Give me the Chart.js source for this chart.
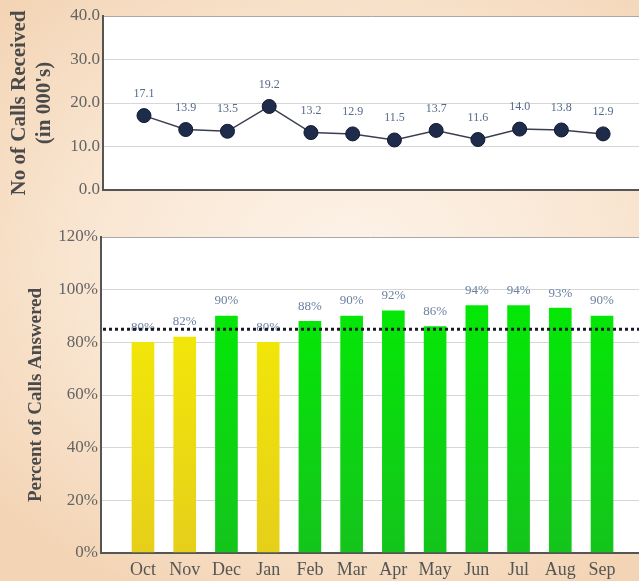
<!DOCTYPE html>
<html><head><meta charset="utf-8">
<script src="https://cdn.jsdelivr.net/npm/chart.js@4"></script>
<style>
html,body{margin:0;padding:0;width:639px;height:581px;overflow:hidden;}
body{background: radial-gradient(ellipse 75% 65% at 55% 45%, #fdf3e9 0%, #f9e6d2 55%, #f3d4b4 100%);}
#top{position:absolute;left:0;top:0;width:639px;height:205px;}
#bot{position:absolute;left:0;top:205px;width:639px;height:376px;}
</style></head><body>
<div id="top"><canvas id="c1"></canvas></div>
<div id="bot"><canvas id="c2"></canvas></div>
<script>
const months = ['Oct','Nov','Dec','Jan','Feb','Mar','Apr','May','Jun','Jul','Aug','Sep'];
const callsReceived = [17.1,13.9,13.5,19.2,13.2,12.9,11.5,13.7,11.6,14.0,13.8,12.9];
const pctAnswered = [80,82,90,80,88,90,92,86,94,94,93,90];
const target = 85;
const callsTicks = [0,10,20,30,40];
const pctTicks = [0,20,40,60,80,100,120];

Chart.defaults.font.family = "'Liberation Serif', 'Times New Roman', serif";
Chart.defaults.animation = false;

const whiteArea = {
  id:'whiteArea',
  beforeDraw(chart){
    const a = chart.chartArea, ctx = chart.ctx;
    ctx.save(); ctx.fillStyle = '#ffffff';
    ctx.fillRect(a.left, a.top, a.right - a.left, a.bottom - a.top);
    ctx.restore();
  }
};
const valueLabels = {
  id:'valueLabels',
  afterDatasetsDraw(chart, args, opts){
    const meta = chart.getDatasetMeta(0), ctx = chart.ctx;
    ctx.save();
    ctx.font = opts.font; ctx.fillStyle = opts.color;
    ctx.textAlign = 'center'; ctx.textBaseline = 'middle';
    meta.data.forEach((el, i) => {
      ctx.fillText(opts.fmt(chart.data.datasets[0].data[i].y), el.x, el.y - opts.offset);
    });
    ctx.restore();
  }
};
const targetLine = {
  id:'targetLine',
  afterDraw(chart, args, opts){
    if (opts.value == null) return;
    const a = chart.chartArea, ctx = chart.ctx;
    const y = chart.scales.y.getPixelForValue(opts.value);
    ctx.save();
    ctx.strokeStyle = '#1b1b28'; ctx.lineWidth = 3; ctx.setLineDash([3,3]);
    ctx.beginPath(); ctx.moveTo(a.left + 2, y); ctx.lineTo(a.right, y); ctx.stroke();
    ctx.restore();
  }
};

const gridColor = (top) => (c) => c.tick.value === 0 ? '#555555' : (c.tick.value === top ? '#a8a8a8' : '#d6d6d6');
const gridWidth = (c) => c.tick.value === 0 ? 2 : 1;

new Chart(document.getElementById('c1'), {
  type:'line',
  data:{ datasets:[{
    data: callsReceived.map((v,i)=>({x:i, y:v})),
    borderColor:'#3a3f50', borderWidth:1.5,
    pointRadius:7, pointHoverRadius:7,
    pointBackgroundColor:'#1e2b4b', pointBorderColor:'#121a30', pointBorderWidth:1
  }]},
  options:{
    responsive:true, maintainAspectRatio:false,
    layout:{autoPadding:false, padding:{top:16,bottom:15,left:0,right:0}},
    plugins:{legend:{display:false}, tooltip:{enabled:false},
      valueLabels:{font:"12px 'Liberation Serif'", color:'#56698a', offset:22, fmt:v=>v.toFixed(1)},
      targetLine:{value:null}},
    scales:{
      x:{type:'linear', display:false, offset:false, min:-0.982, max:11.86},
      y:{min:0, max:40,
        afterFit:s=>{s.width=103;},
        afterBuildTicks:s=>{s.ticks = callsTicks.map(v=>({value:v}));},
        ticks:{callback:v=>Number(v).toFixed(1), color:'#646464', font:{size:17}, padding:3},
        grid:{color:gridColor(40), lineWidth:gridWidth, drawTicks:false},
        border:{display:true, color:'#555555', width:2},
        title:{display:true, text:['No of Calls Received', "(in 000's)"], color:'#4a4a4a',
          font:{size:21, weight:'bold', lineHeight:1.19}, padding:{top:7.5, bottom:0}}
      }
    }
  },
  plugins:[whiteArea, valueLabels, targetLine]
});

new Chart(document.getElementById('c2'), {
  type:'bar',
  data:{ datasets:[{
    data: pctAnswered.map((v,i)=>({x:i, y:v})),
    barThickness:22,
    backgroundColor:(c)=>{
      const chart = c.chart, a = chart.chartArea;
      if (!a || !c.raw) return '#00e000';
      const g = chart.ctx.createLinearGradient(0, a.top, 0, a.bottom);
      if (c.raw.y < target) { g.addColorStop(0,'#f7f000'); g.addColorStop(1,'#e6cf1a'); }
      else { g.addColorStop(0,'#00f200'); g.addColorStop(1,'#14c41c'); }
      return g;
    }
  }]},
  options:{
    responsive:true, maintainAspectRatio:false,
    layout:{autoPadding:false, padding:{top:32,bottom:0,left:0,right:0}},
    plugins:{legend:{display:false}, tooltip:{enabled:false},
      valueLabels:{font:"13px 'Liberation Serif'", color:'#6a80a0', offset:15, fmt:v=>v+'%'},
      targetLine:{value:target}},
    scales:{
      x:{type:'linear', offset:false, min:-1.006, max:11.886,
        afterFit:s=>{s.height=28;},
        afterBuildTicks:s=>{s.ticks = months.map((m,i)=>({value:i}));},
        ticks:{callback:v=>months[v], color:'#555555', font:{size:18}, padding:6, maxRotation:0, autoSkip:false},
        grid:{display:false, drawTicks:false, offset:false},
        border:{display:true, color:'#555555', width:2}
      },
      y:{min:0, max:120,
        afterFit:s=>{s.width=101;},
        afterBuildTicks:s=>{s.ticks = pctTicks.map(v=>({value:v}));},
        ticks:{callback:v=>v+'%', color:'#646464', font:{size:17}, padding:3},
        grid:{color:gridColor(120), lineWidth:gridWidth, drawTicks:false},
        border:{display:true, color:'#555555', width:2},
        title:{display:true, text:'Percent of Calls Answered', color:'#4a4a4a',
          font:{size:19, weight:'bold'}, padding:{top:25, bottom:0}}
      }
    }
  },
  plugins:[whiteArea, valueLabels, targetLine]
});
</script>
</body></html>
